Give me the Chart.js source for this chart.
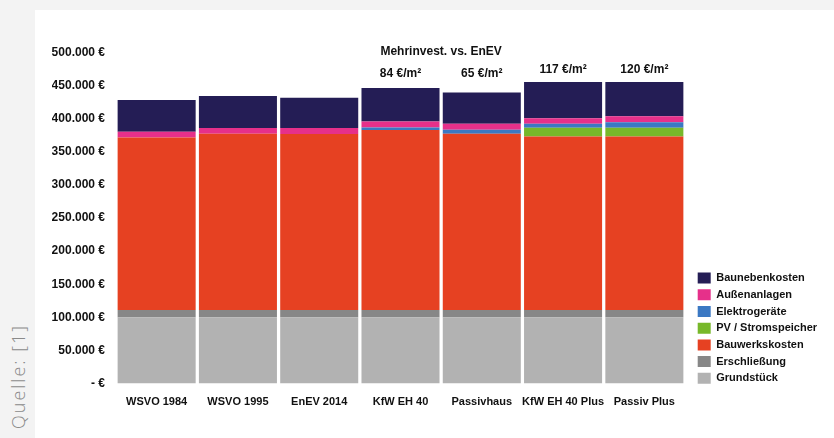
<!DOCTYPE html>
<html lang="de">
<head>
<meta charset="utf-8">
<script src="https://cdn.jsdelivr.net/npm/chart.js@4.4.0/dist/chart.umd.min.js"></script>
<style>
  html, body { margin: 0; padding: 0; background: #f3f3f3; }
  body { width: 834px; height: 438px; position: relative; overflow: hidden; }
  #card { position: absolute; left: 35px; top: 10px; width: 799px; height: 428px; background: #fff; }
  #chartBox { position: absolute; left: 0; top: 0; width: 799px; height: 422px; }
  #quelle {
    position: absolute; left: 6px; top: 429px;
    transform: rotate(-90deg); transform-origin: 0 0;
    font-family: "Open Sans", sans-serif; font-weight: 300; font-size: 18px;
    letter-spacing: 2px; color: #8a8a8a; white-space: nowrap;
  }
</style>
</head>
<body>
<div id="quelle">Quelle: [1]</div>
<div id="card">
  <div id="chartBox"><canvas id="kosten"></canvas></div>
</div>
<script>
// Kategorien (Gebäudestandards)
var kategorien = ['WSVO 1984', 'WSVO 1995', 'EnEV 2014', 'KfW EH 40', 'Passivhaus', 'KfW EH 40 Plus', 'Passiv Plus'];

// Kosten je Kostengruppe in Euro (von unten nach oben gestapelt)
var grundstueck    = [100000, 100000, 100000, 100000, 100000, 100000, 100000];
var erschliessung  = [11000, 11000, 11000, 11000, 11000, 11000, 11000];
var bauwerk        = [261000, 266500, 266000, 272000, 266500, 262500, 262500];
var pvSpeicher     = [0, 0, 0, 0, 0, 13000, 13000];
var elektro        = [0, 0, 0, 4000, 6000, 6000, 8300];
var aussenanlagen  = [8600, 8500, 9000, 9000, 9000, 8300, 9000];
var nebenkosten    = [48000, 48500, 46000, 50700, 47400, 55000, 52000];

// Mehrinvestition gegenüber EnEV
var mehrinvest = ['', '', '', '84 €/m²', '65 €/m²', '117 €/m²', '120 €/m²'];
var mehrinvestTitel = 'Mehrinvest. vs. EnEV';

var yTicks = [0, 50000, 100000, 150000, 200000, 250000, 300000, 350000, 400000, 450000, 500000];

var schrift = '"Liberation Sans", Arial, sans-serif';

function euro(v) {
  if (v === 0) return '- €';
  return v.toLocaleString('de-DE') + ' €';
}

// Beschriftung über den Balken
var mehrinvestPlugin = {
  id: 'mehrinvest',
  afterLayout: function(chart) {
    // Legende etwas tiefer setzen
    chart.legend.top += 6;
    chart.legend.bottom += 6;
  },
  afterDatasetsDraw: function(chart) {
    var c = chart.ctx;
    var x = chart.scales.x;
    var top = chart.chartArea.top;
    c.save();
    c.fillStyle = '#111';
    c.textAlign = 'center';
    c.textBaseline = 'middle';
    c.font = 'bold 12px ' + schrift;
    var x4 = x.getPixelForValue(3), x5 = x.getPixelForValue(4);
    c.fillText(mehrinvestTitel, (x4 + x5) / 2, top - 1);
    for (var i = 0; i < mehrinvest.length; i++) {
      if (!mehrinvest[i]) continue;
      var dy = i < 5 ? 21 : 16.5;
      c.fillText(mehrinvest[i], x.getPixelForValue(i), top + dy);
    }
    c.restore();
  }
};

var ctx = document.getElementById('kosten').getContext('2d');

var chart = new Chart(ctx, {
  type: 'bar',
  data: {
    labels: kategorien,
    datasets: [
      { label: 'Grundstück', data: grundstueck, backgroundColor: '#b2b2b2' },
      { label: 'Erschließung', data: erschliessung, backgroundColor: '#878787' },
      { label: 'Bauwerkskosten', data: bauwerk, backgroundColor: '#e64122' },
      { label: 'PV / Stromspeicher', data: pvSpeicher, backgroundColor: '#77b82a' },
      { label: 'Elektrogeräte', data: elektro, backgroundColor: '#3b78c3' },
      { label: 'Außenanlagen', data: aussenanlagen, backgroundColor: '#e6308a' },
      { label: 'Baunebenkosten', data: nebenkosten, backgroundColor: '#241d55' }
    ]
  },
  options: {
    responsive: true,
    maintainAspectRatio: false,
    animation: false,
    categoryPercentage: 1,
    barPercentage: 0.96,
    layout: { padding: { left: 17, right: 14, top: 42.7, bottom: 23.5 } },
    plugins: {
      tooltip: { enabled: false },
      legend: {
        position: 'right',
        align: 'end',
        fullSize: false,
        reverse: true,
        labels: {
          boxWidth: 13,
          boxHeight: 11,
          padding: 5.7,
          color: '#111',
          font: { family: schrift, weight: 'bold', size: 11 }
        }
      }
    },
    scales: {
      x: {
        stacked: true,
        grid: { display: false, drawTicks: false, tickLength: 0 },
        border: { display: false },
        afterFit: function(axis) { axis.height = 25; },
        ticks: {
          color: '#111',
          padding: 12,
          autoSkip: false,
          maxRotation: 0,
          font: { family: schrift, weight: 'bold', size: 11 }
        }
      },
      y: {
        stacked: true,
        min: 0,
        max: 500000,
        grid: { display: false, drawTicks: false, tickLength: 0 },
        border: { display: false },
        afterFit: function(axis) { axis.width = 64; },
        afterBuildTicks: function(axis) {
          axis.ticks = yTicks.map(function(v) { return { value: v }; });
        },
        ticks: {
          color: '#111',
          padding: 11,
          callback: function(v) { return euro(v); },
          font: { family: schrift, weight: 'bold', size: 12 }
        }
      },
      // leere Achse als Abstand zur Legende
      abstand: {
        position: 'right',
        display: true,
        grid: { display: false, drawTicks: false },
        border: { display: false },
        ticks: { display: false },
        afterFit: function(axis) { axis.width = 7; }
      }
    }
  },
  plugins: [mehrinvestPlugin]
});
</script>
</body>
</html>
